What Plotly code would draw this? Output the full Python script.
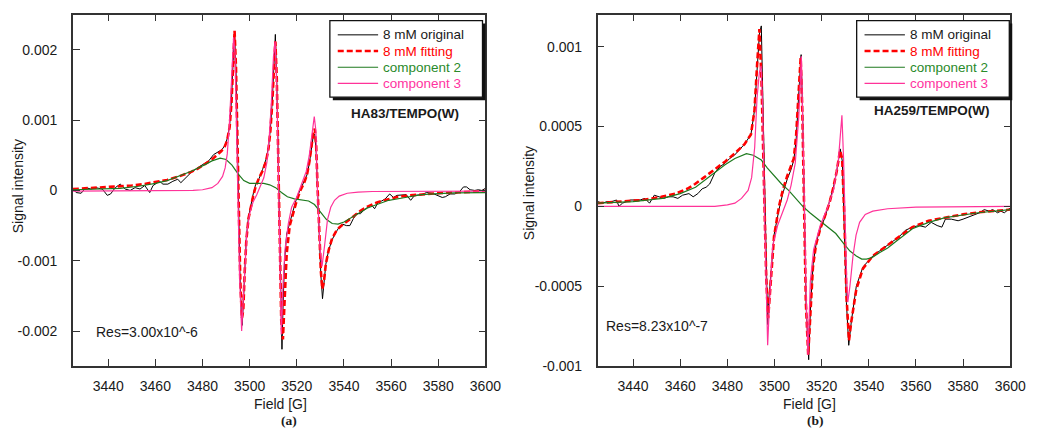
import plotly.graph_objects as go

# ---------------- DATA (signal values in units of 1e-3) ----------------
SCALE = 1e-3

# Panel (a) HA83/TEMPO(W)
A_ORIGINAL = [(3425,0.02),(3426.4,-0.03),(3428.5,-0.04),(3430.5,0.04),(3432.6,0.02),(3434.7,0.04),(3436,0.03),
    (3437.5,0.02),(3439.6,-0.07),(3441,-0.05),(3443,0.04),(3445.1,0.09),(3447.2,0.02),(3449.3,0.0),(3451.4,0.04),
    (3453.5,0.02),(3455.5,0.07),(3457.6,-0.03),(3459,0.07),(3461.8,0.13),(3463.2,0.09),(3465.3,0.09),(3467.4,0.13),
    (3469.5,0.16),(3470.8,0.11),(3472.9,0.18),(3475,0.25),(3477.8,0.32),(3480.5,0.37),(3482.6,0.42),(3484.7,0.51),
    (3486.8,0.55),(3488.2,0.58),(3489.5,0.64),(3490.5,0.74),(3491.5,0.92),(3492.3,1.3),(3493,1.85),(3493.6,2.22),
    (3494.2,1.7),(3494.8,0.6),(3495.3,-0.3),(3495.6,-0.9),(3495.9,-1.2),(3496.4,-1.70),(3496.8,-1.92),(3497.3,-1.62),
    (3497.9,-1.1),(3498.6,-0.66),(3499.5,-0.38),(3500.5,-0.20),(3501.5,-0.05),(3502.5,0.08),(3504,0.17),(3505.5,0.30),
    (3507,0.45),(3508,0.62),(3508.8,0.88),(3509.6,1.28),(3510.3,1.8),(3510.9,2.22),(3511.5,1.55),(3512.1,0.35),
    (3512.7,-0.85),(3513.3,-1.9),(3513.7,-2.26),(3514.2,-1.6),(3514.8,-1.0),(3515.7,-0.62),(3517,-0.45),(3518.5,-0.28),
    (3520,-0.10),(3521.5,0.02),(3523,0.12),(3524.3,0.22),(3525.3,0.38),(3526.2,0.58),(3527,0.78),(3527.6,0.80),
    (3528.2,0.55),(3528.8,0.0),(3529.5,-0.62),(3530.2,-1.2),(3530.9,-1.54),(3531.5,-1.35),(3532.3,-1.05),(3533.5,-0.85),
    (3535,-0.70),(3536.5,-0.60),(3538,-0.52),(3539.5,-0.48),(3541,-0.50),(3542.5,-0.50),(3544,-0.40),(3545.5,-0.33),
    (3547,-0.33),(3548.5,-0.28),(3550,-0.24),(3551.5,-0.20),(3553,-0.26),(3554.5,-0.17),(3556,-0.15),(3557.5,-0.12),
    (3559.4,-0.05),(3561,-0.10),(3562.5,-0.07),(3564.5,-0.06),(3566.4,-0.06),(3568.3,-0.14),(3570,-0.07),(3573,-0.06),
    (3575,-0.03),(3577.5,-0.04),(3580,-0.07),(3581.7,-0.10),(3583,-0.09),(3585,-0.05),(3587,-0.05),(3589,-0.02),
    (3590.7,0.05),(3592,0.05),(3593.5,0.01),(3595.5,0.0),(3597,0.01),(3598.5,0.0),(3600,0.03)]

A_FITTING = [(3425,0.02),(3430,0.03),(3435,0.03),(3440,0.04),(3445,0.05),(3450,0.07),(3455,0.09),(3460,0.12),
    (3465,0.15),(3470,0.20),(3475,0.26),(3478,0.31),(3481,0.37),(3484,0.44),(3486,0.50),(3488,0.56),(3489.5,0.63),
    (3490.5,0.72),(3491.5,0.90),(3492.3,1.25),(3493,1.80),(3493.6,2.27),(3494.2,1.75),(3494.8,0.70),(3495.4,-0.40),
    (3496,-1.25),(3496.7,-1.82),(3497.3,-1.70),(3497.9,-1.15),(3498.6,-0.70),(3499.5,-0.40),(3500.5,-0.22),
    (3501.5,-0.08),(3502.5,0.05),(3504,0.18),(3505.5,0.28),(3507,0.42),(3508,0.60),(3508.8,0.85),(3509.6,1.25),
    (3510.3,1.75),(3510.9,2.12),(3511.5,1.60),(3512.1,0.40),(3512.7,-0.80),(3513.4,-1.85),(3514.1,-2.12),
    (3514.8,-1.55),(3515.7,-0.90),(3517,-0.50),(3518.5,-0.30),(3520,-0.14),(3521.5,0.0),(3523,0.10),(3524.3,0.22),
    (3525.3,0.40),(3526.2,0.62),(3527,0.82),(3527.6,0.88),(3528.2,0.65),(3528.8,0.05),(3529.5,-0.60),(3530.2,-1.15),
    (3530.8,-1.40),(3531.5,-1.30),(3532.3,-1.05),(3533.5,-0.85),(3535,-0.68),(3537,-0.56),(3539,-0.50),
    (3541.5,-0.44),(3544,-0.37),(3547,-0.29),(3550,-0.23),(3554,-0.17),(3558,-0.13),(3563,-0.09),(3568,-0.07),
    (3574,-0.05),(3580,-0.04),(3587,-0.03),(3594,-0.02),(3600,-0.01)]

A_COMP2 = [(3425,0.01),(3435,0.02),(3445,0.03),(3453,0.06),(3460,0.10),(3465,0.14),(3470,0.20),(3475,0.27),
    (3480,0.35),(3484,0.42),(3487.5,0.46),(3490,0.44),(3492.5,0.36),(3495,0.24),(3497.5,0.14),(3500,0.10),
    (3503,0.10),(3506,0.10),(3508.5,0.08),(3511,0.04),(3513.5,-0.03),(3516,-0.09),(3519,-0.12),(3522,-0.13),
    (3525,-0.15),(3527.5,-0.20),(3530,-0.30),(3532.5,-0.41),(3535,-0.47),(3537.5,-0.48),(3540,-0.45),(3543,-0.39),
    (3546,-0.32),(3550,-0.25),(3554,-0.20),(3559,-0.14),(3566,-0.10),(3573,-0.06),(3580,-0.045),(3587,-0.035),
    (3600,-0.03)]

A_COMP3 = [(3425,-0.01),(3450,-0.01),(3470,-0.01),(3476,0.0),(3480,0.01),(3484,0.04),(3486.5,0.10),(3488.5,0.20),
    (3489.6,0.32),(3490.5,0.52),(3491.4,0.95),(3492.3,1.55),(3493.2,2.18),(3493.8,1.95),(3494.4,0.9),(3495,-0.2),
    (3495.7,-1.2),(3496.6,-2.0),(3497.3,-1.55),(3498,-0.95),(3498.8,-0.6),(3500,-0.33),(3501.5,-0.16),(3503,-0.06),
    (3504.5,0.05),(3506,0.18),(3507.3,0.40),(3508.3,0.75),(3509.2,1.25),(3510.1,1.90),(3510.8,2.12),(3511.5,1.5),
    (3512.2,0.2),(3512.8,-1.0),(3513.4,-2.05),(3514.2,-1.3),(3515,-0.84),(3516.4,-0.47),(3517.8,-0.24),(3519.9,-0.10),
    (3522,0.08),(3524,0.27),(3525.3,0.50),(3526.4,0.80),(3527.4,1.05),(3528.1,0.85),(3528.8,-0.05),(3529.8,-0.80),
    (3530.7,-1.08),(3531.8,-0.78),(3533,-0.42),(3534.4,-0.24),(3536,-0.14),(3538,-0.08),(3541.4,-0.04),(3546,-0.025),
    (3552,-0.015),(3600,-0.01)]

# Panel (b) HA259/TEMPO(W)
B_ORIGINAL = [(3425,0.03),(3427,0.02),(3429,0.03),(3431,0.03),(3433,0.04),(3434,0.0),(3435.5,0.02),(3437,0.03),
    (3439,0.04),(3441,0.04),(3443,0.04),(3445,0.05),(3447,0.02),(3449,0.07),(3451,0.06),(3453,0.05),(3455,0.06),
    (3457,0.06),(3459,0.05),(3461,0.07),(3463.7,0.08),(3465.5,0.06),(3467.5,0.08),(3469.3,0.11),(3471,0.12),
    (3472.5,0.14),(3474.7,0.21),(3477,0.25),(3479,0.27),(3481,0.30),(3483,0.32),(3485,0.35),(3487.3,0.39),
    (3490,0.45),(3491.5,0.60),(3492.6,0.85),(3493.6,1.08),(3494.4,1.13),(3495,0.7),(3495.7,0.05),(3496.5,-0.45),
    (3497.1,-0.74),(3497.4,-0.62),(3498.4,-0.43),(3499.8,-0.18),(3501.9,-0.02),(3503.5,0.08),(3505.4,0.17),
    (3507,0.23),(3508.2,0.29),(3509.2,0.42),(3510.2,0.68),(3511.3,0.95),(3511.9,0.60),(3512.6,0.05),(3513.4,-0.62),
    (3514.5,-0.96),(3515.3,-0.62),(3516.4,-0.36),(3517.8,-0.22),(3519.4,-0.14),(3521.4,-0.07),(3523.3,0.03),
    (3525,0.12),(3526.4,0.22),(3527.9,0.36),(3528.8,0.28),(3529.6,-0.10),(3530.5,-0.60),(3531.5,-0.87),
    (3532.6,-0.72),(3534.7,-0.50),(3537.5,-0.38),(3541.7,-0.31),(3544.5,-0.28),(3547.3,-0.25),(3550,-0.22),
    (3552.9,-0.19),(3555.5,-0.15),(3558.5,-0.13),(3561.3,-0.12),(3564,-0.13),(3566.5,-0.10),(3569,-0.12),
    (3571,-0.13),(3572.5,-0.08),(3575,-0.08),(3577.9,-0.09),(3580,-0.08),(3583.6,-0.06),(3585.5,-0.05),
    (3587,-0.04),(3589,-0.02),(3591,-0.03),(3592.5,-0.02),(3594.6,-0.04),(3596,-0.03),(3597.5,-0.04),(3600,-0.01)]

B_FITTING = [(3425,0.02),(3435,0.03),(3444,0.04),(3452,0.06),(3458,0.08),(3463,0.11),(3466.3,0.14),(3470,0.18),
    (3474.7,0.23),(3479,0.28),(3483,0.33),(3487.3,0.39),(3490,0.45),(3491.5,0.60),(3492.6,0.88),(3493.6,1.11),
    (3494.5,0.78),(3495.7,0.06),(3496.5,-0.45),(3497.3,-0.70),(3498.4,-0.45),(3499.8,-0.19),(3501.9,0.0),
    (3503.5,0.10),(3505.4,0.19),(3507,0.25),(3508.2,0.30),(3509.2,0.45),(3510.2,0.70),(3511.1,0.93),(3511.8,0.60),
    (3512.5,0.10),(3513.3,-0.60),(3514.3,-0.93),(3515.2,-0.65),(3516.3,-0.38),(3517.6,-0.24),(3519.4,-0.14),
    (3521.4,-0.06),(3523.3,0.02),(3525,0.12),(3526.4,0.22),(3527.8,0.35),(3528.7,0.30),(3529.6,-0.05),
    (3530.5,-0.55),(3531.6,-0.84),(3532.6,-0.72),(3534.7,-0.52),(3537.5,-0.39),(3541.7,-0.31),(3547.3,-0.25),
    (3552.9,-0.19),(3558.5,-0.13),(3565.4,-0.09),(3572.4,-0.07),(3580,-0.05),(3588,-0.035),(3600,-0.02)]

B_COMP2 = [(3425,0.02),(3440,0.03),(3452.5,0.05),(3460,0.08),(3466.5,0.12),(3471,0.17),(3474.8,0.21),(3479,0.26),
    (3483.2,0.30),(3486,0.32),(3488.1,0.33),(3491,0.32),(3494.4,0.29),(3497,0.24),(3500,0.19),(3503,0.14),
    (3506,0.10),(3509,0.05),(3512,0.0),(3515,-0.04),(3519.4,-0.09),(3523,-0.13),(3526,-0.17),(3529.2,-0.23),
    (3532,-0.28),(3534.7,-0.31),(3537,-0.33),(3539,-0.33),(3541.5,-0.32),(3544.5,-0.29),(3548,-0.26),
    (3551.5,-0.22),(3555,-0.18),(3558.5,-0.14),(3565.4,-0.10),(3572.4,-0.07),(3586.4,-0.04),(3600,-0.02)]

B_COMP3 = [(3425,0.0),(3450,0.0),(3474.7,0.0),(3480,0.01),(3483.2,0.02),(3486,0.05),(3488.8,0.10),(3490.3,0.18),
    (3491.6,0.37),(3492.6,0.68),(3493.6,0.84),(3494.3,0.88),(3495,0.6),(3495.7,0.0),(3496.5,-0.56),(3497.1,-0.87),
    (3497.9,-0.6),(3499.2,-0.25),(3501.3,-0.12),(3503.5,-0.03),(3505.4,0.04),(3507,0.13),(3508.8,0.27),
    (3510.3,0.56),(3511.4,0.94),(3512.1,0.45),(3512.7,-0.06),(3513.5,-0.6),(3514.2,-0.93),(3515.2,-0.47),
    (3516.6,-0.27),(3519.4,-0.12),(3522.2,-0.02),(3525,0.10),(3527.1,0.29),(3528.6,0.57),(3529.3,0.3),
    (3529.8,-0.06),(3530.6,-0.45),(3531.1,-0.60),(3532,-0.50),(3533.3,-0.31),(3534.6,-0.18),(3536.1,-0.10),
    (3538.5,-0.05),(3541.7,-0.03),(3548,-0.015),(3560,-0.005),(3600,0.0)]

SERIES_NAMES = ["8 mM original", "8 mM fitting", "component 2", "component 3"]
X_TICKS = [3440, 3460, 3480, 3500, 3520, 3540, 3560, 3580, 3600]
A_YTICKS = [0.002, 0.001, 0, -0.001, -0.002]
A_YTICKTEXT = ["0.002", "0.001", "0", "-0.001", "-0.002"]
B_YTICKS = [0.001, 0.0005, 0, -0.0005, -0.001]
B_YTICKTEXT = ["0.001", "0.0005", "0", "-0.0005", "-0.001"]
SAMPLE_LABELS = ["HA83/TEMPO(W)", "HA259/TEMPO(W)"]
RES_LABELS = ["Res=3.00x10^-6", "Res=8.23x10^-7"]
PANEL_LABELS = ["(a)", "(b)"]

# ---------------- STYLE ----------------
W, H = 1044, 437
FONT = "Liberation Sans, Arial, sans-serif"
TXT = "#1a1a1a"
COLORS = ["#000000", "#ff0000", "#1f7a1f", "#ff3399"]
LEG_TXT = ["#1a1a1a", "#ff0000", "#2a8a2a", "#ff33a0"]
FRAME = "#333333"
STYLES = [
    dict(color=COLORS[0], width=1),
    dict(color=COLORS[1], width=2.6, dash="6px,3px"),
    dict(color=COLORS[2], width=1.2),
    dict(color=COLORS[3], width=1.2),
]

def px(x):
    return x / W

def py(y):
    return 1 - y / H

def split(pairs):
    return [p[0] for p in pairs], [p[1] * SCALE for p in pairs]

fig = go.Figure()
for xa, ya, data in [("x", "y", [A_ORIGINAL, A_FITTING, A_COMP2, A_COMP3]),
                     ("x2", "y2", [B_ORIGINAL, B_FITTING, B_COMP2, B_COMP3])]:
    for i in range(4):
        xs, ys = split(data[i])
        fig.add_trace(go.Scatter(x=xs, y=ys, mode="lines", name=SERIES_NAMES[i], line=STYLES[i],
                                 xaxis=xa, yaxis=ya, showlegend=False, hoverinfo="skip"))

AX_L = (74, 493)
AX_R = (607, 1026)
AX_TOP, AX_BOT = 15, 373

tickfont = dict(family=FONT, size=14, color=TXT)
common_x = dict(range=[3425, 3600.02], tickvals=X_TICKS, ticktext=[str(t) for t in X_TICKS],
                ticks="inside", ticklen=7, tickwidth=1.2, tickcolor=FRAME, showline=True,
                linecolor=FRAME, linewidth=1.5, mirror="ticks", showgrid=False, zeroline=False,
                tickfont=tickfont, ticklabelstandoff=6)
common_y = dict(ticks="inside", ticklen=7, tickwidth=1.2, tickcolor=FRAME, showline=True,
                linecolor=FRAME, linewidth=1.5, mirror="ticks", showgrid=False, zeroline=False,
                tickfont=tickfont, ticklabelstandoff=11)

fig.update_layout(
    width=W, height=H, margin=dict(l=0, r=0, t=0, b=0),
    paper_bgcolor="white", plot_bgcolor="white", showlegend=False,
    xaxis=dict(domain=[px(AX_L[0]), px(AX_L[1])], anchor="y", **common_x),
    yaxis=dict(domain=[py(AX_BOT), py(AX_TOP)], anchor="x", range=[-0.0025, 0.0025],
               tickvals=A_YTICKS, ticktext=A_YTICKTEXT, **common_y),
    xaxis2=dict(domain=[px(AX_R[0]), px(AX_R[1])], anchor="y2", **common_x),
    yaxis2=dict(domain=[py(AX_BOT), py(AX_TOP)], anchor="x2", range=[-0.0010005, 0.0012],
                tickvals=B_YTICKS, ticktext=B_YTICKTEXT, **common_y),
)

ann = []
def add_text(x, y, text, size=14, bold=False, angle=0, xanchor="center", family=FONT, color=TXT):
    t = f"<b>{text}</b>" if bold else text
    ann.append(dict(x=px(x), y=py(y), xref="paper", yref="paper", text=t, showarrow=False,
                    textangle=angle, xanchor=xanchor, yanchor="middle",
                    font=dict(family=family, size=size, color=color)))

# ---- boxed legends with drop shadow (one per panel) ----
LEGEND_BOXES = [(335, 490), (870, 1025)]
BOX_TOP, BOX_BOT = 21, 99
ROW_Y = [35.5, 52, 68.5, 85]
for (l, r) in LEGEND_BOXES:
    fig.add_shape(type="rect", xref="paper", yref="paper", x0=px(l + 3), x1=px(r + 3),
                  y0=py(BOX_BOT + 3), y1=py(BOX_TOP + 3), fillcolor="#111111",
                  line=dict(width=0), layer="above")
    fig.add_shape(type="rect", xref="paper", yref="paper", x0=px(l), x1=px(r),
                  y0=py(BOX_BOT), y1=py(BOX_TOP), fillcolor="white",
                  line=dict(color="#111111", width=1.3), layer="above")
    for i in range(4):
        st = dict(STYLES[i])
        fig.add_shape(type="line", xref="paper", yref="paper", x0=px(l + 8), x1=px(l + 49),
                      y0=py(ROW_Y[i]), y1=py(ROW_Y[i]),
                      line=dict(color=st["color"], width=st["width"] if i != 1 else 2.4,
                                dash=st.get("dash", "solid")), layer="above")
        add_text(l + 52, ROW_Y[i], SERIES_NAMES[i], size=13.5, xanchor="left", color=LEG_TXT[i])

add_text(411, 116, SAMPLE_LABELS[0], size=13.5, bold=True)
add_text(947, 113, SAMPLE_LABELS[1], size=13.5, bold=True)
add_text(95, 338, RES_LABELS[0], xanchor="left")
add_text(613, 332, RES_LABELS[1], xanchor="left")
add_text(18, 190, "Signal intensity", angle=-90)
add_text(538, 197, "Signal intensity", angle=-90)
add_text(285, 412, "Field [G]")
add_text(822, 412, "Field [G]")
add_text(293, 428, PANEL_LABELS[0], size=13.5, bold=True, family="Liberation Serif, Times New Roman, serif")
add_text(828, 428, PANEL_LABELS[1], size=13.5, bold=True, family="Liberation Serif, Times New Roman, serif")
fig.update_layout(annotations=ann)

fig.write_html(
    "out.html",
    config={"displayModeBar": False},
    post_script=("var de=document.documentElement, b=document.body;"
                 "de.style.margin='0';de.style.overflow='hidden';"
                 "b.style.margin='0';b.style.padding='0';b.style.overflow='hidden';"),
)
